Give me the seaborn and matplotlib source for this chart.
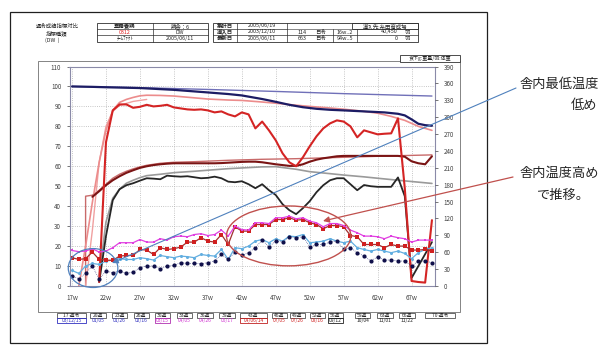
import matplotlib
matplotlib.use("Agg")
import matplotlib.pyplot as plt
import seaborn as sns
from matplotlib.patches import Ellipse, Rectangle

sns.set_theme(style="white")
plt.rcParams['font.family'] = ['Noto Sans CJK JP', 'DejaVu Sans']

# ---------------- data ----------------
weeks = list(range(17, 71))

magenta_vals = [17.8, 17.2, 17.5, 18.7, 17.0, 17.5, 19.2, 21.7, 21.7, 21.7,
                23.3, 22.0, 22.0, 23.7, 23.0, 24.7, 25.0, 24.7, 25.8, 26.2,
                25.3, 25.8, 28.0, 25.0, 30.0, 28.3, 28.0, 31.7, 31.7, 31.3,
                34.2, 34.2, 35.0, 33.7, 34.2, 32.5, 31.7, 29.7, 31.3, 31.3,
                30.3, 28.0, 26.7, 25.0, 25.0, 24.7, 23.7, 25.0, 24.2, 23.7,
                22.0, 23.0, 23.0, 23.0]
red_mk_vals = [14.2, 13.3, 13.7, 17.0, 13.3, 13.0, 12.8, 15.0, 15.3, 15.3,
               18.3, 18.0, 15.8, 19.2, 18.3, 18.7, 19.5, 22.0, 22.0, 24.2,
               22.5, 22.0, 25.8, 20.8, 29.7, 27.5, 27.5, 30.8, 30.8, 30.8,
               33.3, 33.3, 34.2, 33.0, 33.3, 31.7, 30.8, 28.7, 30.3, 30.3,
               29.7, 25.3, 24.7, 20.8, 20.8, 20.8, 19.2, 20.8, 20.0, 20.0,
               18.0, 18.0, 18.3, 17.5]
lightblue_vals = [7.8, 6.3, 10.0, 11.3, 10.8, 12.5, 13.0, 13.7, 13.3, 13.3,
                  14.2, 13.7, 13.0, 15.3, 14.7, 14.2, 15.0, 14.7, 14.2, 15.8,
                  15.3, 15.0, 18.3, 13.3, 19.2, 18.7, 20.0, 22.5, 23.3, 21.7,
                  23.7, 22.5, 25.0, 24.7, 25.8, 21.7, 22.0, 22.5, 23.7, 22.5,
                  21.7, 22.5, 19.2, 18.3, 17.5, 18.3, 17.5, 16.7, 17.5, 16.3,
                  13.7, 16.7, 18.3, 19.2]
navy_dot_vals = [5.0, 3.7, 6.3, 10.0, 3.3, 7.5, 6.7, 7.5, 6.3, 7.0,
                 9.2, 10.0, 10.0, 8.7, 10.0, 10.3, 11.7, 11.3, 11.3, 11.2,
                 11.7, 12.5, 15.8, 13.3, 17.0, 15.3, 16.7, 19.2, 23.0, 19.7,
                 22.5, 22.0, 24.7, 24.2, 24.7, 19.7, 20.8, 20.8, 22.0, 22.5,
                 18.3, 19.2, 16.7, 15.0, 12.5, 14.7, 13.0, 13.0, 12.5, 12.5,
                 10.0, 12.5, 12.5, 11.7]

navy_w = [17, 20, 22, 27, 32, 37, 40, 42, 45, 47, 49, 51, 53, 55, 57, 60, 63, 65, 66, 67, 68, 69, 70]
navy_v = [100, 99.8, 99.6, 99.2, 98.3, 97.0, 96.2, 95.5, 93.7, 92.3, 90.8, 89.6, 88.8, 88.3,
          88.0, 87.5, 87.0, 86.3, 85.5, 83.5, 81.3, 80.6, 80.3]

purple_w = [17, 27, 37, 47, 57, 70]
purple_v = [100, 99.4, 98.5, 97.5, 96.4, 95.2]

pink_w = [18, 19, 20, 21, 22, 23, 24, 25, 26, 27, 28, 30, 32, 35, 37, 40, 42, 45, 47, 50,
          52, 55, 57, 60, 62, 64, 65, 66, 68, 70]
pink_v = [0, 20, 42, 62, 78, 88, 92, 93.5, 94.5, 95.3, 95.6, 95.5, 95.2, 94.3, 93.7, 93.2,
          93.0, 92.2, 91.6, 90.6, 90.0, 89.2, 88.6, 87.5, 86.6, 85.0, 84.0, 83.0, 80.0, 78.0]

salmon_w = [19, 20, 21, 22, 23, 24, 26, 28]
salmon_v = [0, 28, 62, 80, 87.5, 90.5, 92.5, 93.5]

red_w = list(range(21, 71))
red_v = [2, 72, 88, 91, 91, 89.3, 89.8, 90.8, 90, 90.3,
         90.8, 89.5, 89, 88.5, 88.3, 88.5, 88, 87, 87.5, 86,
         85, 87, 86, 79, 82.4, 78, 73, 66.5, 62, 60,
         64.5, 70, 75, 79, 81.5, 83, 82.4, 80, 74.5, 78,
         77, 76, 76.3, 76.5, 84, 49, 2.5, 2, 1.7, 33]

maroon_w = list(range(20, 71))
maroon_v = [44.7, 47.5, 50.5, 53, 55, 56.7, 58, 59.2, 60, 60.6,
            61, 61.3, 61.5, 61.5, 61.5, 61.5, 61.5, 61.5, 61.5, 61.6,
            61.8, 62, 62.2, 62.3, 62.3, 62, 61.5, 61, 60.6, 60.2,
            60.2, 61, 62.3, 63.3, 64, 64.5, 65, 65.2, 65.2, 65.2,
            65.2, 65.2, 65.2, 65.2, 65.2, 65.2, 64.8, 62.5, 61.5, 61, 65]

brown_w = [19, 19, 20, 21, 22, 23, 24, 25, 26, 27, 28, 30, 32, 35, 40, 45, 50, 55, 60, 65, 70]
brown_v = [0, 45, 45.5, 48, 51, 54, 56, 57.5, 58.7, 59.7, 60.5, 61.5, 62, 62.3, 63, 63.5,
           63.8, 64.3, 64.8, 65.3, 65.7]

grey_w = [21, 22, 23, 24, 25, 26, 27, 28, 30, 32, 35, 40, 45, 47, 50, 52, 55, 57, 60, 62, 65, 70]
grey_v = [5, 32, 44, 48.5, 51.5, 53, 54.3, 55.3, 56, 56.8, 57.5, 58.8, 59.7, 59.8, 58.5,
          57.3, 56.3, 55.6, 54.7, 54, 53, 51.4]

black_w = list(range(21, 71))
black_v = [2, 25, 43, 48.5, 50.5, 51.5, 52.8, 54, 53.8, 53.5,
           55.3, 55, 54.8, 55, 54.5, 54, 54.2, 54.8, 54, 52.3,
           52, 52.5, 51, 49, 51, 48, 45.6, 41, 38, 36,
           39, 42.5, 47, 50.5, 53, 54, 54, 51, 48, 50.6,
           50, 49.7, 49.7, 49.7, 54.4, 45, 4, 10, 16, 22]

x_ticks = list(range(17, 68, 5))
x_tick_labels = [f"{w}w" for w in x_ticks]
left_ticks = list(range(0, 111, 10))
right_ticks = list(range(0, 391, 30))

box_weeks = ['17 週令', '20週', '23週', '26週', '30週', '33週', '36週', '39週', '43週',
             '46週', '49週', '52週', '56週', '59週', '63週', '66週', '70 週令']
box_dates = ['03/12/15', '01/05', '01/26', '02/16', '03/15', '04/05', '04/26', '05/17',
             '04/06/14', '07/05', '07/26', '08/16', '09/12', '10/04', '11/01', '11/22', '']

# ---------------- figure ----------------
fig = plt.figure(figsize=(6, 3.56), dpi=100)
fig.patch.set_facecolor('white')

W, H = 600, 356
L, R, T, B = 69.5, 435, 66.5, 286
ax = fig.add_axes([L / W, 1 - B / H, (R - L) / W, (B - T) / H])
ax.set_facecolor('white')

def line(xs, ys, color, lw, **kw):
    sns.lineplot(x=xs, y=ys, ax=ax, color=color, lw=lw, estimator=None, sort=False,
                 legend=False, **kw)

line(purple_w, purple_v, '#7070b8', 1.0)
line(brown_w, brown_v, '#c86a6a', 1.0)
line(grey_w, grey_v, '#9a9a9a', 1.2)
line(salmon_w, salmon_v, '#f0a0a0', 1.0)
line(pink_w, pink_v, '#ec8c8c', 1.2)
line(navy_w, navy_v, '#1c1c64', 1.6)
line(maroon_w, maroon_v, '#7a1414', 1.5)
line(black_w, black_v, '#262626', 1.3)
line(red_w, red_v, '#d42424', 1.5)

line(weeks, lightblue_vals, '#62aee0', 0.9, marker='o', markersize=2.2,
     markeredgewidth=0)
line(weeks, navy_dot_vals, '#30307a', 0.5, linestyle=':', marker='o', markersize=3,
     markeredgewidth=0, markerfacecolor='#10104a')
line(weeks, red_mk_vals, '#a03030', 0.9, marker='s', markersize=2.6,
     markeredgewidth=0, markerfacecolor='#d02020')
line(weeks, magenta_vals, '#e040e0', 0.9, marker='s', markersize=2.0,
     markeredgewidth=0)

ax.set_xlim(16.63, 70.45)
ax.set_ylim(0, 110)
ax.set_xticks(x_ticks)
ax.set_xticklabels(x_tick_labels)
ax.set_yticks(left_ticks)
ax.set_xlabel('')
ax.set_ylabel('')
ax.grid(True, linestyle=':', color='#b4b4b4', lw=0.6)
ax.tick_params(axis='both', labelsize=4.5, length=2, width=0.5, colors='#404040', pad=4)
for s in ax.spines.values():
    s.set_color('#8a8aa8')
    s.set_linewidth(0.8)

ax2 = ax.twinx()
ax2.set_ylim(0, 390)
ax2.set_yticks(right_ticks)
ax2.tick_params(axis='y', labelsize=4.5, length=2, width=0.5, colors='#404040', pad=4)
ax2.grid(False)
for s in ax2.spines.values():
    s.set_visible(False)

# ellipses (annotations)
ax.add_patch(Ellipse((20.1, 9.0), 7.3, 19.5, fill=False, edgecolor='#4f81bd', lw=0.9,
                     clip_on=False, zorder=5))
ax.add_patch(Ellipse((48.9, 25.1), 18.3, 30, fill=False, edgecolor='#c0504d', lw=1.0,
                     clip_on=False, zorder=5))

# ---------------- overlay in pixel coordinates ----------------
ov = fig.add_axes([0, 0, 1, 1], zorder=10)
ov.set_xlim(0, W)
ov.set_ylim(H, 0)
ov.axis('off')
ov.patch.set_alpha(0)

ov.add_patch(Rectangle((10, 12), 477, 331, fill=False, edgecolor='#202020', lw=0.9))
ov.add_patch(Rectangle((38, 61), 422, 251, fill=False, edgecolor='#707070', lw=0.6))

fs = 3.9
ov.text(57, 26, '週令成績指標対比', fontsize=fs, ha='center', va='center')
ov.text(57, 33, '指標種類', fontsize=fs, ha='center', va='center')
ov.text(52, 40, '(DW  )', fontsize=fs, ha='center', va='center')

def hline(x0, x1, y, lw=0.5):
    ov.plot([x0, x1], [y, y], color='#303030', lw=lw)

def vline(x, y0, y1, lw=0.5):
    ov.plot([x, x], [y0, y1], color='#303030', lw=lw)

# table 1
ov.add_patch(Rectangle((97, 23), 111, 19, fill=False, edgecolor='#303030', lw=0.6))
hline(97, 208, 29); hline(97, 208, 35); vline(153, 23, 42)
ov.text(125, 26, '雲霧養鶏', fontsize=fs, ha='center', va='center', weight='bold')
ov.text(180, 26, '鶏舎：6', fontsize=fs, ha='center', va='center')
ov.text(125, 32, '0312', fontsize=fs, ha='center', va='center', color='#e02020')
ov.text(180, 32, 'DW', fontsize=fs, ha='center', va='center')
ov.text(125, 38.5, 'ﾁｰﾑﾌｧｸﾄ', fontsize=fs - 0.4, ha='center', va='center')
ov.text(180, 38.5, '2005/06/11', fontsize=fs, ha='center', va='center')

# table 2
ov.add_patch(Rectangle((213, 23), 205, 19, fill=False, edgecolor='#303030', lw=0.6))
hline(213, 287, 29); hline(287, 418, 29, lw=0.4); hline(213, 418, 35)
vline(237, 23, 42); vline(287, 23, 42); vline(333, 29, 42); vline(357, 29, 42)
ov.add_patch(Rectangle((352, 23), 66, 6, fill=False, edgecolor='#303030', lw=0.6))
ov.text(225, 26, '集計日', fontsize=fs, ha='center', va='center', weight='bold')
ov.text(225, 32, '導入日', fontsize=fs, ha='center', va='center', weight='bold')
ov.text(225, 38.5, '最新日', fontsize=fs, ha='center', va='center', weight='bold')
ov.text(262, 26, '2005/06/19', fontsize=fs, ha='center', va='center')
ov.text(262, 32, '2003/12/10', fontsize=fs, ha='center', va='center')
ov.text(262, 38.5, '2005/06/11', fontsize=fs, ha='center', va='center')
ov.text(385, 26, '導入先:糸田育成場', fontsize=fs, ha='center', va='center')
ov.text(307, 32, '114', fontsize=fs, ha='right', va='center')
ov.text(315, 32, '日令', fontsize=fs, ha='left', va='center')
ov.text(307, 38.5, '663', fontsize=fs, ha='right', va='center')
ov.text(315, 38.5, '日令', fontsize=fs, ha='left', va='center')
ov.text(337, 32, '16w..2', fontsize=fs, ha='left', va='center')
ov.text(337, 38.5, '94w..5', fontsize=fs, ha='left', va='center')
ov.text(398, 32, '40,450', fontsize=fs, ha='right', va='center')
ov.text(398, 38.5, '0', fontsize=fs, ha='right', va='center')
ov.text(405, 32, '羽', fontsize=fs, ha='left', va='center')
ov.text(405, 38.5, '羽', fontsize=fs, ha='left', va='center')

# legend note box
ov.add_patch(Rectangle((400, 55), 60, 7, fill=True, facecolor='white',
                       edgecolor='#303030', lw=0.6))
ov.text(430, 58.5, '食下g:重量/羽:体重', fontsize=3.6, ha='center', va='center')

# bottom week / date boxes
box_cx = [71.5, 98, 119.5, 141, 162.5, 184, 205, 227, 253.5, 279.5, 297.5, 317.5, 335.5,
          362.5, 385, 407, 440]
box_w = [29, 16, 15, 15, 15, 15, 16, 16, 27, 15, 15, 15, 15, 15, 16, 16, 30]
date_col = ['#3030c0'] * 4 + ['#d030d0'] * 4 + ['#d02020'] * 4 + ['#202020'] * 4 + ['#202020']
boxed = {0: '#3030c0', 4: '#b030b0', 8: '#c02020', 12: '#202020'}
for i, (cx, bw) in enumerate(zip(box_cx, box_w)):
    ov.add_patch(Rectangle((cx - bw / 2, 313), bw, 5, fill=False, edgecolor='#303030', lw=0.5))
    ov.text(cx, 315.6, box_weeks[i], fontsize=3.5, ha='center', va='center')
    if box_dates[i]:
        if i in boxed:
            ov.add_patch(Rectangle((cx - bw / 2, 318), bw, 5, fill=False,
                                   edgecolor=boxed[i], lw=0.6))
        ov.text(cx, 320.6, box_dates[i], fontsize=3.5, ha='center', va='center',
                color=date_col[i])

# right-hand comments
ov.text(520, 84, '舎内最低温度', fontsize=9.5, ha='left', va='center')
ov.text(597, 105, '低め', fontsize=9.5, ha='right', va='center')
ov.text(520, 173, '舎内温度高め', fontsize=9.5, ha='left', va='center')
ov.text(590, 195, 'で推移。', fontsize=9.5, ha='right', va='center')

ov.annotate('', xy=(112, 263), xytext=(516, 88),
            arrowprops=dict(arrowstyle='-|>', color='#4f81bd', lw=0.8,
                            mutation_scale=9, shrinkA=0, shrinkB=0))
ov.annotate('', xy=(323, 221), xytext=(513, 177),
            arrowprops=dict(arrowstyle='-|>', color='#c0504d', lw=0.9,
                            mutation_scale=9, shrinkA=0, shrinkB=0))

fig.savefig('out.png', dpi=100, facecolor='white')
